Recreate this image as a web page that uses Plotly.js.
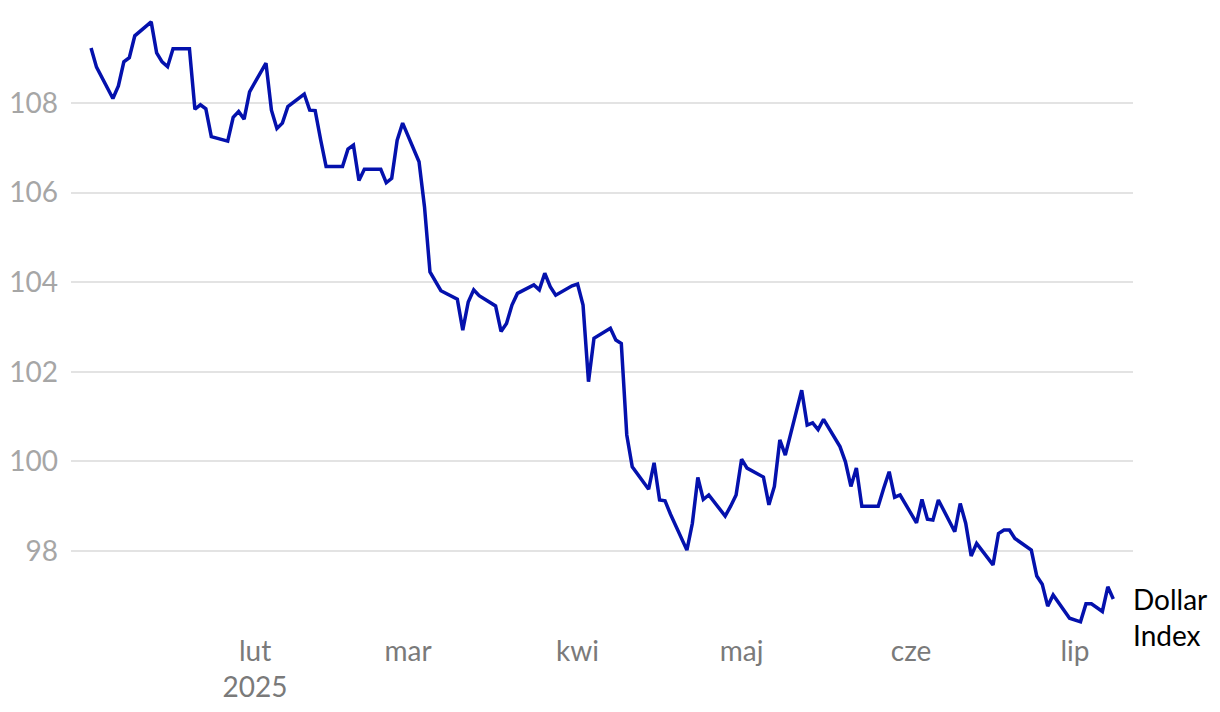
<!DOCTYPE html>
<html>
<head>
<meta charset="utf-8">
<script src="https://cdn.plot.ly/plotly-3.0.1.min.js"></script>
<style>
html,body{margin:0;padding:0;background:#fff;}
#chart{width:1220px;height:712px;}
</style>
</head>
<body>
<div id="chart"></div>
<script>
const dates = [
'2025-01-02','2025-01-03','2025-01-06','2025-01-07','2025-01-08','2025-01-09','2025-01-10',
'2025-01-13','2025-01-14','2025-01-15','2025-01-16','2025-01-17','2025-01-20','2025-01-21',
'2025-01-22','2025-01-23','2025-01-24','2025-01-27','2025-01-28','2025-01-29','2025-01-30',
'2025-01-31','2025-02-03','2025-02-04','2025-02-05','2025-02-06','2025-02-07','2025-02-10',
'2025-02-11','2025-02-12','2025-02-13','2025-02-14','2025-02-17','2025-02-18','2025-02-19',
'2025-02-20','2025-02-21','2025-02-24','2025-02-25','2025-02-26','2025-02-27','2025-02-28',
'2025-03-03','2025-03-04','2025-03-05','2025-03-06','2025-03-07','2025-03-10','2025-03-11',
'2025-03-12','2025-03-13','2025-03-14','2025-03-17','2025-03-18','2025-03-19','2025-03-20',
'2025-03-21','2025-03-24','2025-03-25','2025-03-26','2025-03-27','2025-03-28','2025-03-31',
'2025-04-01','2025-04-02','2025-04-03','2025-04-04','2025-04-07','2025-04-08','2025-04-09',
'2025-04-10','2025-04-11','2025-04-14','2025-04-15','2025-04-16','2025-04-17','2025-04-18',
'2025-04-21','2025-04-22','2025-04-23','2025-04-24','2025-04-25','2025-04-28','2025-04-29',
'2025-04-30','2025-05-01','2025-05-02','2025-05-05','2025-05-06','2025-05-07','2025-05-08',
'2025-05-09','2025-05-12','2025-05-13','2025-05-14','2025-05-15','2025-05-16','2025-05-19',
'2025-05-20','2025-05-21','2025-05-22','2025-05-23','2025-05-26','2025-05-27','2025-05-28',
'2025-05-29','2025-05-30','2025-06-02','2025-06-03','2025-06-04','2025-06-05','2025-06-06',
'2025-06-09','2025-06-10','2025-06-11','2025-06-12','2025-06-13','2025-06-16','2025-06-17',
'2025-06-18','2025-06-19','2025-06-20','2025-06-23','2025-06-24','2025-06-25','2025-06-26',
'2025-06-27','2025-06-30','2025-07-01','2025-07-02','2025-07-03','2025-07-04','2025-07-06',
'2025-07-07','2025-07-08'
];
const dollarIndex = [
109.23,108.80,108.10,108.38,108.92,109.01,109.50,
109.81,109.12,108.92,108.81,109.21,109.21,107.86,
107.96,107.87,107.25,107.15,107.68,107.81,107.64,
108.25,108.89,107.84,107.43,107.55,107.92,108.20,
107.84,107.83,107.18,106.58,106.58,106.97,107.06,
106.27,106.52,106.52,106.22,106.32,107.17,107.55,
106.69,105.68,104.23,104.03,103.81,103.62,102.93,
103.56,103.83,103.70,103.47,102.90,103.08,103.49,
103.75,103.94,103.83,104.20,103.90,103.71,103.92,
103.96,103.49,101.78,102.75,102.97,102.71,102.63,
100.59,99.88,99.38,99.97,99.14,99.12,98.82,
98.02,98.62,99.64,99.15,99.25,98.78,99.00,
99.25,100.05,99.85,99.65,99.03,99.44,100.48,
100.14,101.59,100.81,100.86,100.71,100.94,100.33,
99.99,99.44,99.85,99.00,99.00,99.40,99.77,
99.20,99.25,98.63,99.15,98.71,98.69,99.14,
98.43,99.06,98.62,97.89,98.17,97.69,98.39,
98.47,98.47,98.28,98.02,97.44,97.26,96.77,
97.02,96.50,96.46,96.42,96.82,96.82,96.65,
97.20,96.93
];
const seriesName = 'Dollar<br>Index';
const xTickVals = ['2025-02-01','2025-03-01','2025-04-01','2025-05-01','2025-06-01','2025-07-01'];
const xTickText = ['lut<br>2025','mar','kwi','maj','cze','lip'];
const yTickVals = [98,100,102,104,106,108];
const yTickText = ['98','100','102','104','106','108'];

const trace = {
  x: dates, y: dollarIndex, type: 'scatter', mode: 'lines',
  line: {color: '#0411ad', width: 3.5}, hoverinfo: 'x+y', showlegend: false
};
const layout = {
  width: 1220, height: 712,
  margin: {l: 71, r: 87, t: 13, b: 80},
  paper_bgcolor: '#ffffff', plot_bgcolor: '#ffffff',
  font: {family: 'Lato, "Open Sans", sans-serif', size: 28, color: '#000'},
  xaxis: {
    type: 'date',
    range: ['2024-12-29 08:00', '2025-07-11 14:30'],
    tickvals: xTickVals, ticktext: xTickText,
    showgrid: false, zeroline: false, showline: false, ticks: '',
    tickfont: {family: 'Lato, sans-serif', size: 28, color: '#7a7a7a'}
  },
  yaxis: {
    range: [96.192, 110.009],
    tickvals: yTickVals, ticktext: yTickText,
    showgrid: true, gridcolor: '#e3e3e3', gridwidth: 2,
    zeroline: false, showline: false, ticks: '',
    ticklabelstandoff: 12,
    tickfont: {family: 'Lato, sans-serif', size: 28, color: '#a6a6a6'}
  },
  annotations: [{
    x: dates[dates.length - 1], y: dollarIndex[dollarIndex.length - 1],
    xref: 'x', yref: 'y', text: seriesName, showarrow: false,
    xanchor: 'left', yanchor: 'middle', align: 'left', xshift: 18, yshift: -18,
    font: {family: 'Lato, sans-serif', size: 28, color: '#000'}
  }]
};
Plotly.newPlot('chart', [trace], layout, {displayModeBar: false, staticPlot: true});
</script>
</body>
</html>
